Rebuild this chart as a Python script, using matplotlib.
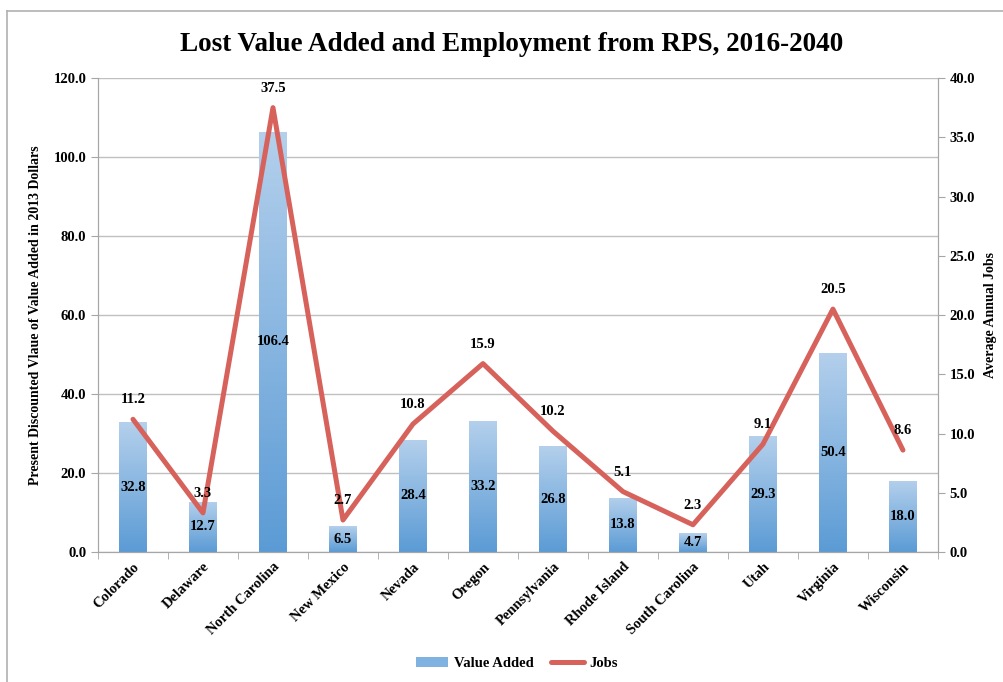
import numpy as np
import matplotlib
matplotlib.use('Agg')
import matplotlib.pyplot as plt
from matplotlib.colors import LinearSegmentedColormap
from matplotlib.lines import Line2D
from matplotlib.patches import Patch

states = ['Colorado', 'Delaware', 'North Carolina', 'New Mexico', 'Nevada', 'Oregon',
          'Pennsylvania', 'Rhode Island', 'South Carolina', 'Utah', 'Virginia', 'Wisconsin']
value_added = [32.8, 12.7, 106.4, 6.5, 28.4, 33.2, 26.8, 13.8, 4.7, 29.3, 50.4, 18.0]
jobs = [11.2, 3.3, 37.5, 2.7, 10.8, 15.9, 10.2, 5.1, 2.3, 9.1, 20.5, 8.6]

plt.rcParams['font.family'] = ['Liberation Serif', 'DejaVu Serif']
plt.rcParams['font.weight'] = 'bold'

fig = plt.figure(figsize=(10.04, 6.82), dpi=100)
ax = fig.add_axes([0.0976, 0.1906, 0.8366, 0.695])
ax2 = ax.twinx()

x = np.arange(len(states))
grey = '#a6a6a6'
blues = LinearSegmentedColormap.from_list('b', ['#5b9bd5', '#b4d0ec'])

bars = ax.bar(x, value_added, width=0.4, color='none', edgecolor='none', zorder=2)
grad = np.linspace(0, 1, 256).reshape(-1, 1)
for b in bars:
    bx, bw, bh = b.get_x(), b.get_width(), b.get_height()
    im = ax.imshow(grad, extent=[bx, bx + bw, 0, bh], origin='lower', aspect='auto',
                   cmap=blues, zorder=2)
    im.set_clip_path(b)

ax.set_xlim(-0.5, len(states) - 0.5)
ax.set_ylim(0, 120)
ax.set_yticks(np.arange(0, 121, 20))
ax.set_yticklabels([f'{v:.1f}' for v in np.arange(0, 121, 20)])
ax.yaxis.grid(True, color='#c0c0c0', linewidth=1)
ax.set_axisbelow(True)
ax.set_xticks(x)
ax.set_xticklabels(states, rotation=45, ha='right', rotation_mode='anchor', fontsize=10.5)
ax.set_xticks(np.arange(-0.5, len(states), 1), minor=True)
ax.tick_params(axis='x', which='major', length=0, pad=6)
ax.tick_params(axis='x', which='minor', length=5, color=grey)
ax.tick_params(axis='y', length=5, color=grey, labelsize=10.5)
ax.set_ylabel('Present Discounted Vlaue of Value Added in 2013 Dollars', fontsize=10,
              fontweight='bold', labelpad=8)

ax2.plot(x, jobs, color='#d6625b', linewidth=3.6, solid_capstyle='round', zorder=3)
ax2.set_ylim(0, 40)
ax2.set_yticks(np.arange(0, 41, 5))
ax2.set_yticklabels([f'{v:.1f}' for v in np.arange(0, 41, 5)])
ax2.tick_params(axis='y', length=5, color=grey, labelsize=10.5)
ax2.set_ylabel('Average Annual Jobs', fontsize=10, fontweight='bold', labelpad=6)

for a in (ax, ax2):
    for s in a.spines.values():
        s.set_color(grey)
    a.spines['top'].set_visible(False)

for xi, v in zip(x, value_added):
    ax2.text(xi, v / 2, f'{v:.1f}', transform=ax.transData, ha='center', va='center',
             fontsize=10.5, fontweight='bold', zorder=5)
for xi, v in zip(x, jobs):
    ax2.annotate(f'{v:.1f}', (xi, v), xytext=(0, 14), textcoords='offset points',
                 ha='center', va='center', fontsize=10.5, fontweight='bold', zorder=5)

fig.text(0.51, 0.935, 'Lost Value Added and Employment from RPS, 2016-2040',
         ha='center', va='center', fontsize=19.5, fontweight='bold')

handles = [Patch(facecolor='#7fb2e0', edgecolor='none'),
           Line2D([0], [0], color='#d6625b', linewidth=3.6, solid_capstyle='round')]
fig.legend(handles, ['Value Added', 'Jobs'], loc='center', bbox_to_anchor=(0.515, 0.027),
           ncol=2, frameon=False, fontsize=10.5, handlelength=2.2, handleheight=0.6,
           columnspacing=1.2, handletextpad=0.4)

fig.add_artist(Line2D([0.007, 0.007], [0, 0.984], color='#b0b0b0', linewidth=1.2))
fig.add_artist(Line2D([0.007, 1.0], [0.984, 0.984], color='#b0b0b0', linewidth=1.2))

fig.savefig('out.png', dpi=100)
